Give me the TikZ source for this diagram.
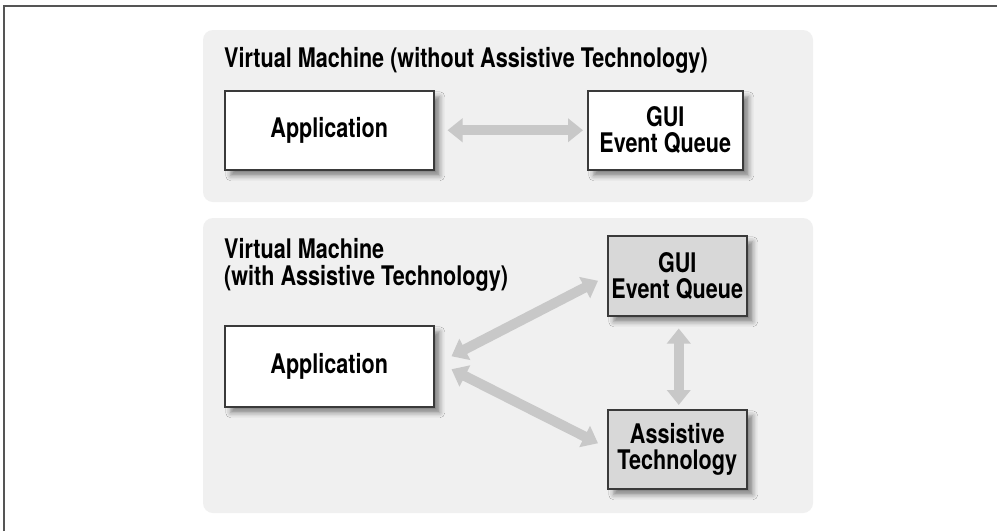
\documentclass[tikz,border=0pt]{standalone}
\usepackage{fontspec}
\setmainfont[FakeStretch=0.8]{TeX Gyre Heros}
\usetikzlibrary{arrows.meta,shadows.blur,calc}
\definecolor{panelgray}{HTML}{F0F0F0}
\definecolor{boxgray}{HTML}{D8D8D8}
\definecolor{arrowgray}{HTML}{C8C8C8}
\definecolor{edgegray}{HTML}{3A3A3A}
\definecolor{framegray}{HTML}{555555}
\begin{document}
\begin{tikzpicture}[x=1pt,y=-1pt,
 lbl/.style={font=\fontsize{27}{26}\selectfont\bfseries, text=black},
 box/.style={lbl, draw=edgegray, line width=1.5pt, fill=white, anchor=north west, align=center, inner sep=0pt,
   blur shadow={shadow xshift=6pt, shadow yshift=-6pt, shadow blur radius=5pt, shadow opacity=45}},
 graybox/.style={box, fill=boxgray},
 panel/.style={fill=panelgray, rounded corners=10pt},
 title/.style={lbl, anchor=base west, inner sep=0pt},
 bigarrow/.style={draw=arrowgray, line width=10pt, {Triangle[width=23pt,length=15pt]}-{Triangle[width=23pt,length=15pt]}}
]
\useasboundingbox (0,0) rectangle (997,531);
\fill[white] (0,0) rectangle (997,531);
\draw[framegray, line width=2pt] (4,531) -- (4,6) -- (997,6);

% top panel
\fill[panel] (203,30) rectangle (813,202);
\node[title] (t1) at (224,67) {Virtual Machine (without Assistive Technology)};
\node[box, minimum width=209pt, minimum height=79pt] (app1) at (224,90) {Application};
\node[box, minimum width=155pt, minimum height=79pt] (gui1) at (587,90) {GUI\\Event Queue};
\draw[bigarrow] ($(app1.east)+(13,0)$) -- ($(gui1.west)+(-4,0)$);

% bottom panel
\fill[panel] (203,218) rectangle (813,513);
\node[title] (t2a) at (224,258) {Virtual Machine};
\node[title] (t2b) at (224,285) {(with Assistive Technology)};
\node[box, minimum width=209pt, minimum height=81pt] (app2) at (224,325) {Application};
\node[graybox, minimum width=139pt, minimum height=80pt] (gui2) at (607,235) {GUI\\Event Queue};
\node[graybox, minimum width=139pt, minimum height=79pt] (at) at (607,409) {Assistive\\Technology};
\draw[bigarrow] ($(app2.east)+(17,-10)$) -- ($(gui2.west)+(-9,5)$);
\draw[bigarrow] ($(app2.east)+(17,3)$) -- ($(at.west)+(-9,-6)$);
\draw[bigarrow] ($(gui2.south)+(1.5,12)$) -- ($(at.north)+(1.5,-4)$);
\end{tikzpicture}
\end{document}
